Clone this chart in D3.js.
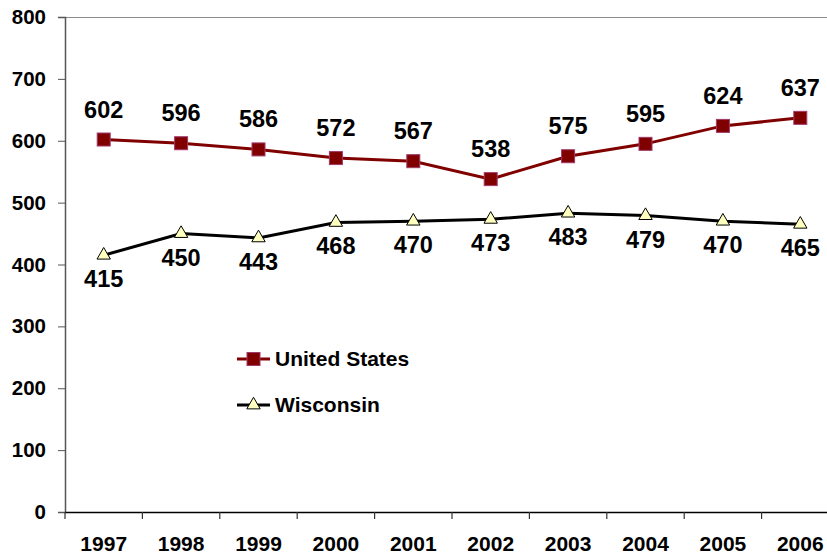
<!DOCTYPE html>
<html><head><meta charset="utf-8">
<script src="https://cdn.jsdelivr.net/npm/d3@7/dist/d3.min.js"></script>
<style>body{margin:0;background:#fff}svg{display:block}text{font-family:Arial,"Liberation Sans",sans-serif;font-weight:bold}</style>
</head><body><svg id="c" width="827" height="556"></svg>
<script>
const years = ["1997","1998","1999","2000","2001","2002","2003","2004","2005","2006"];
const usValues = [602,596,586,572,567,538,575,595,624,637];
const wiValues = [415,450,443,468,470,473,483,479,470,465];
const yTicks = [0,100,200,300,400,500,600,700,800];
const seriesNames = ["United States","Wisconsin"];

(function(){
const svg = d3.select("#c");
const pL = 65, pR = 839, pT = 17, pB = 512;
const x = d3.scaleBand().domain(years).range([pL, pR]).padding(0);
const y = d3.scaleLinear().domain([0,800]).range([pB, pT]);
const cx = d => x(d) + x.bandwidth()/2;

// top border
svg.append("line").attr("x1",pL).attr("x2",pR).attr("y1",pT+0.5).attr("y2",pT+0.5).attr("stroke","#8c8c8c").attr("stroke-width",1);

// y axis
const ya = svg.append("g").attr("transform",`translate(${pL},0)`)
  .call(d3.axisLeft(y).tickValues(yTicks).tickSize(7).tickPadding(12).tickFormat(d3.format("d")));
ya.select(".domain").attr("stroke","#555").attr("stroke-width",1.5);
ya.selectAll(".tick line").attr("stroke","#555");
ya.selectAll("text").attr("font-size",20.5).attr("fill","#000").style("font-family","Arial,'Liberation Sans',sans-serif").style("font-weight","bold");

// x axis
const xa = svg.append("g").attr("transform",`translate(0,${pB})`)
  .call(d3.axisBottom(x).tickSize(0).tickPadding(24));
xa.select(".domain").attr("stroke","#000").attr("stroke-width",1.5);
xa.selectAll("text").attr("font-size",21).attr("fill","#000").style("font-family","Arial,'Liberation Sans',sans-serif").style("font-weight","bold");
years.forEach(yr => {
  xa.append("line").attr("x1",x(yr)).attr("x2",x(yr)).attr("y1",0).attr("y2",7).attr("stroke","#333").attr("stroke-width",1.2);
});

const line = d3.line().x((d,i)=>cx(years[i])).y(d=>y(d));

// US series
svg.append("path").datum(usValues).attr("d",line).attr("fill","none").attr("stroke","#800000").attr("stroke-width",3);
svg.selectAll(".us").data(usValues).enter().append("rect")
  .attr("x",(d,i)=>cx(years[i])-6.5).attr("y",d=>y(d)-6.5).attr("width",13).attr("height",13)
  .attr("fill","#800000").attr("stroke","#a03a6a").attr("stroke-width",1);
svg.selectAll(".usl").data(usValues).enter().append("text")
  .attr("x",(d,i)=>cx(years[i])).attr("y",d=>y(d)-22).attr("text-anchor","middle").attr("font-size",23.5).text(d=>d);

// WI series
const tri = d3.symbol().type(d3.symbolTriangle).size(78);
svg.append("path").datum(wiValues).attr("d",line).attr("fill","none").attr("stroke","#000").attr("stroke-width",3);
svg.selectAll(".wi").data(wiValues).enter().append("path")
  .attr("d",tri).attr("transform",(d,i)=>`translate(${cx(years[i])},${y(d)})`)
  .attr("fill","#ffffc0").attr("stroke","#000").attr("stroke-width",1);
svg.selectAll(".wil").data(wiValues).enter().append("text")
  .attr("x",(d,i)=>cx(years[i])).attr("y",d=>y(d)+32).attr("text-anchor","middle").attr("font-size",23.5).text(d=>d);

// legend
const lg = svg.append("g");
[0,1].forEach(k => {
  const ly = 359 + k*46;
  lg.append("line").attr("x1",237).attr("x2",270).attr("y1",ly).attr("y2",ly)
    .attr("stroke", k===0?"#800000":"#000").attr("stroke-width",3);
  if(k===0){
    lg.append("rect").attr("x",253.5-6.5).attr("y",ly-6.5).attr("width",13).attr("height",13)
      .attr("fill","#800000").attr("stroke","#a03a6a");
  } else {
    lg.append("path").attr("d",tri).attr("transform",`translate(253.5,${ly})`)
      .attr("fill","#ffffc0").attr("stroke","#000");
  }
  lg.append("text").attr("x",275).attr("y",ly+7).attr("font-size",21).text(seriesNames[k]);
});
})();
</script></body></html>
